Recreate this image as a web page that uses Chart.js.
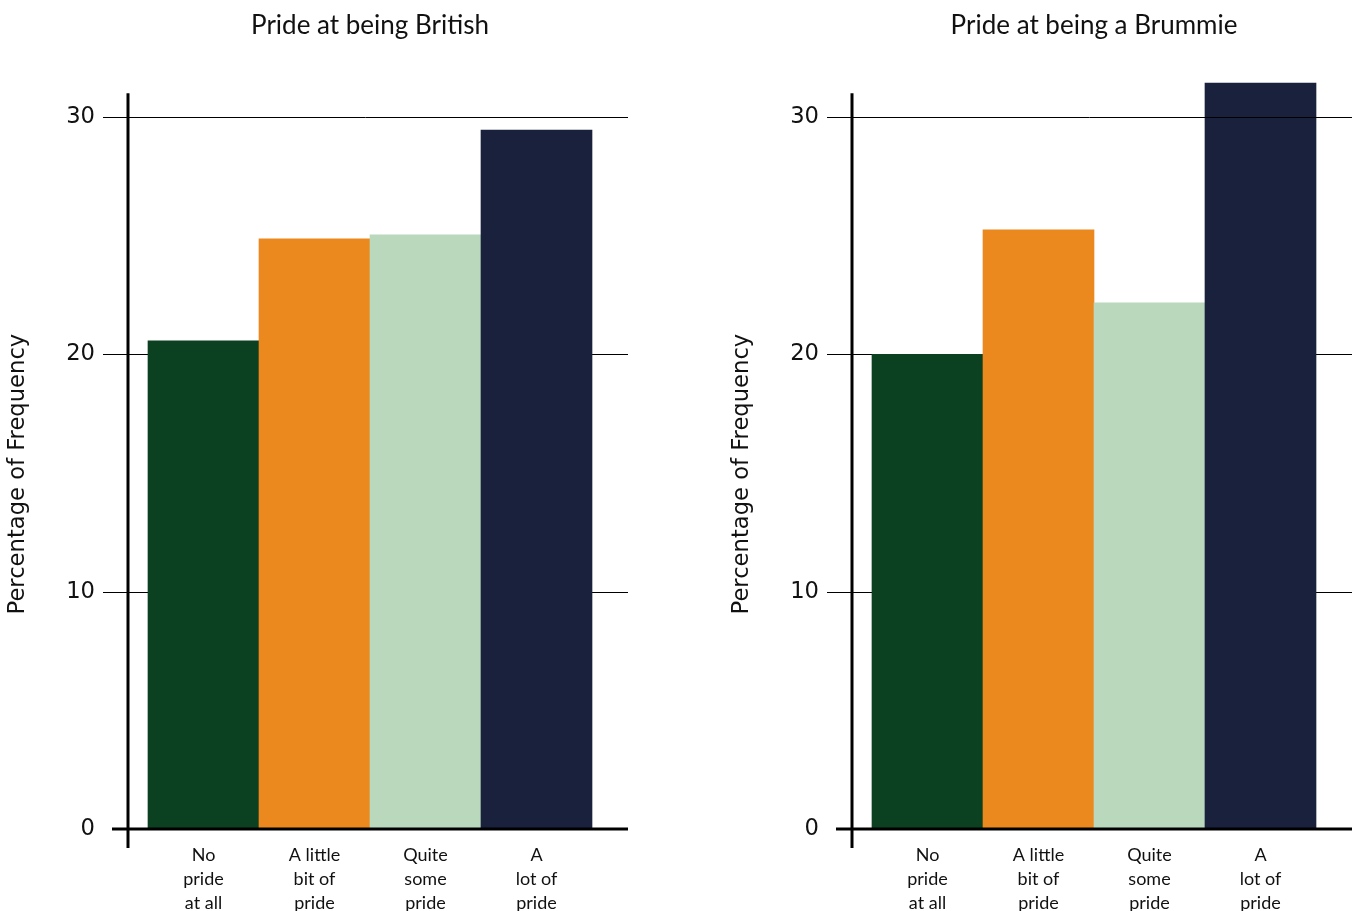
<!DOCTYPE html>
<html>
<head>
<meta charset="utf-8">
<script src="https://cdn.jsdelivr.net/npm/chart.js@4/dist/chart.umd.min.js"></script>
<style>
  html, body { margin: 0; padding: 0; background: #ffffff; }
  body { width: 1356px; height: 911px; position: relative; overflow: hidden; }
  .panel { position: absolute; top: 0; width: 632px; height: 911px; }
  #panelBritish { left: 0; }
  #panelBrummie { left: 724px; }
</style>
</head>
<body>
<div class="panel" id="panelBritish"><canvas id="chartBritish"></canvas></div>
<div class="panel" id="panelBrummie"><canvas id="chartBrummie"></canvas></div>
<script>
// Response categories (multi-line tick labels)
const categories = [
  ['No', 'pride', 'at all'],
  ['A little', 'bit of', 'pride'],
  ['Quite', 'some', 'pride'],
  ['A', 'lot of', 'pride']
];

// Percentage of respondents in each category
const britishValues = [20.57, 24.86, 25.03, 29.45];
const brummieValues = [20.0, 25.24, 22.17, 31.43];

// Y-axis tick values
const yTicks = [0, 10, 20, 30];

const titles = ['Pride at being British', 'Pride at being a Brummie'];
const yAxisTitle = 'Percentage of Frequency';

const barColors = ['#0b4020', '#eb881e', '#b9d8bc', '#19213d'];

// Axis lines, horizontal reference lines and the vertical axis title
const axisFrame = {
  id: 'axisFrame',
  beforeDatasetsDraw(chart) {
    const { ctx, chartArea, scales } = chart;
    const y = scales.y;
    ctx.save();
    ctx.strokeStyle = '#000000';
    ctx.lineWidth = 1;
    yTicks.slice(1, -1).forEach(v => {
      const py = Math.round(y.getPixelForValue(v)) + 0.5;
      ctx.beginPath();
      ctx.moveTo(chartArea.left - 45, py);
      ctx.lineTo(chartArea.right + 36, py);
      ctx.stroke();
    });
    // axis title, rotated
    ctx.fillStyle = '#111111';
    ctx.font = '22.67px "DejaVu Sans"';
    ctx.textAlign = 'center';
    ctx.textBaseline = 'middle';
    ctx.translate(chartArea.left - 130, (chartArea.top + chartArea.bottom) / 2 + 13);
    ctx.rotate(-Math.PI / 2);
    ctx.fillText(yAxisTitle, 0, 0);
    ctx.restore();
  },
  afterDatasetsDraw(chart) {
    const { ctx, chartArea, scales } = chart;
    const y = scales.y;
    ctx.save();
    ctx.strokeStyle = '#000000';
    // top reference line
    const topVal = yTicks[yTicks.length - 1];
    const pt = Math.round(y.getPixelForValue(topVal)) + 0.5;
    ctx.lineWidth = 1;
    ctx.beginPath();
    ctx.moveTo(chartArea.left - 45, pt);
    ctx.lineTo(chartArea.right + 36, pt);
    ctx.stroke();
    // zero line
    const p0 = y.getPixelForValue(0);
    ctx.lineWidth = 3;
    ctx.beginPath();
    ctx.moveTo(chartArea.left - 36, p0);
    ctx.lineTo(chartArea.right + 36, p0);
    ctx.stroke();
    // vertical axis
    const ax = chartArea.left - 20;
    ctx.beginPath();
    ctx.moveTo(ax, chartArea.top);
    ctx.lineTo(ax, p0 + 19);
    ctx.stroke();
    ctx.restore();
  }
};

function makeChart(canvasId, title, values) {
  return new Chart(document.getElementById(canvasId), {
    type: 'bar',
    data: {
      labels: categories,
      datasets: [{
        data: values,
        backgroundColor: barColors,
        borderWidth: 0,
        categoryPercentage: 1.0,
        barPercentage: 1.0,
        clip: false
      }]
    },
    options: {
      responsive: true,
      maintainAspectRatio: false,
      animation: false,
      layout: { padding: { left: 0, right: 40, top: 0, bottom: 0 } },
      plugins: {
        legend: { display: false },
        tooltip: { enabled: false },
        title: {
          display: true,
          text: title,
          fullSize: false,
          color: '#111111',
          font: { family: 'Lato', size: 26, weight: 'normal', lineHeight: 1.2 },
          padding: { top: 10, bottom: 52 }
        }
      },
      scales: {
        x: {
          type: 'category',
          offset: true,
          grid: { display: false, drawTicks: false },
          border: { display: false },
          ticks: {
            color: '#111111',
            font: { family: 'Lato', size: 18, lineHeight: 1.333 },
            padding: 14,
            maxRotation: 0,
            autoSkip: false
          },
          afterFit(scale) { scale.height = 82; }
        },
        y: {
          min: 0,
          max: 31,
          grid: { display: false, drawTicks: false },
          border: { display: false },
          afterBuildTicks(scale) { scale.ticks = yTicks.map(v => ({ value: v })); },
          ticks: {
            color: '#111111',
            font: { family: 'DejaVu Sans', size: 22.67 },
            padding: 53
          },
          afterFit(scale) { scale.width = 148; }
        }
      }
    },
    plugins: [axisFrame]
  });
}

makeChart('chartBritish', titles[0], britishValues);
makeChart('chartBrummie', titles[1], brummieValues);
</script>
</body>
</html>
